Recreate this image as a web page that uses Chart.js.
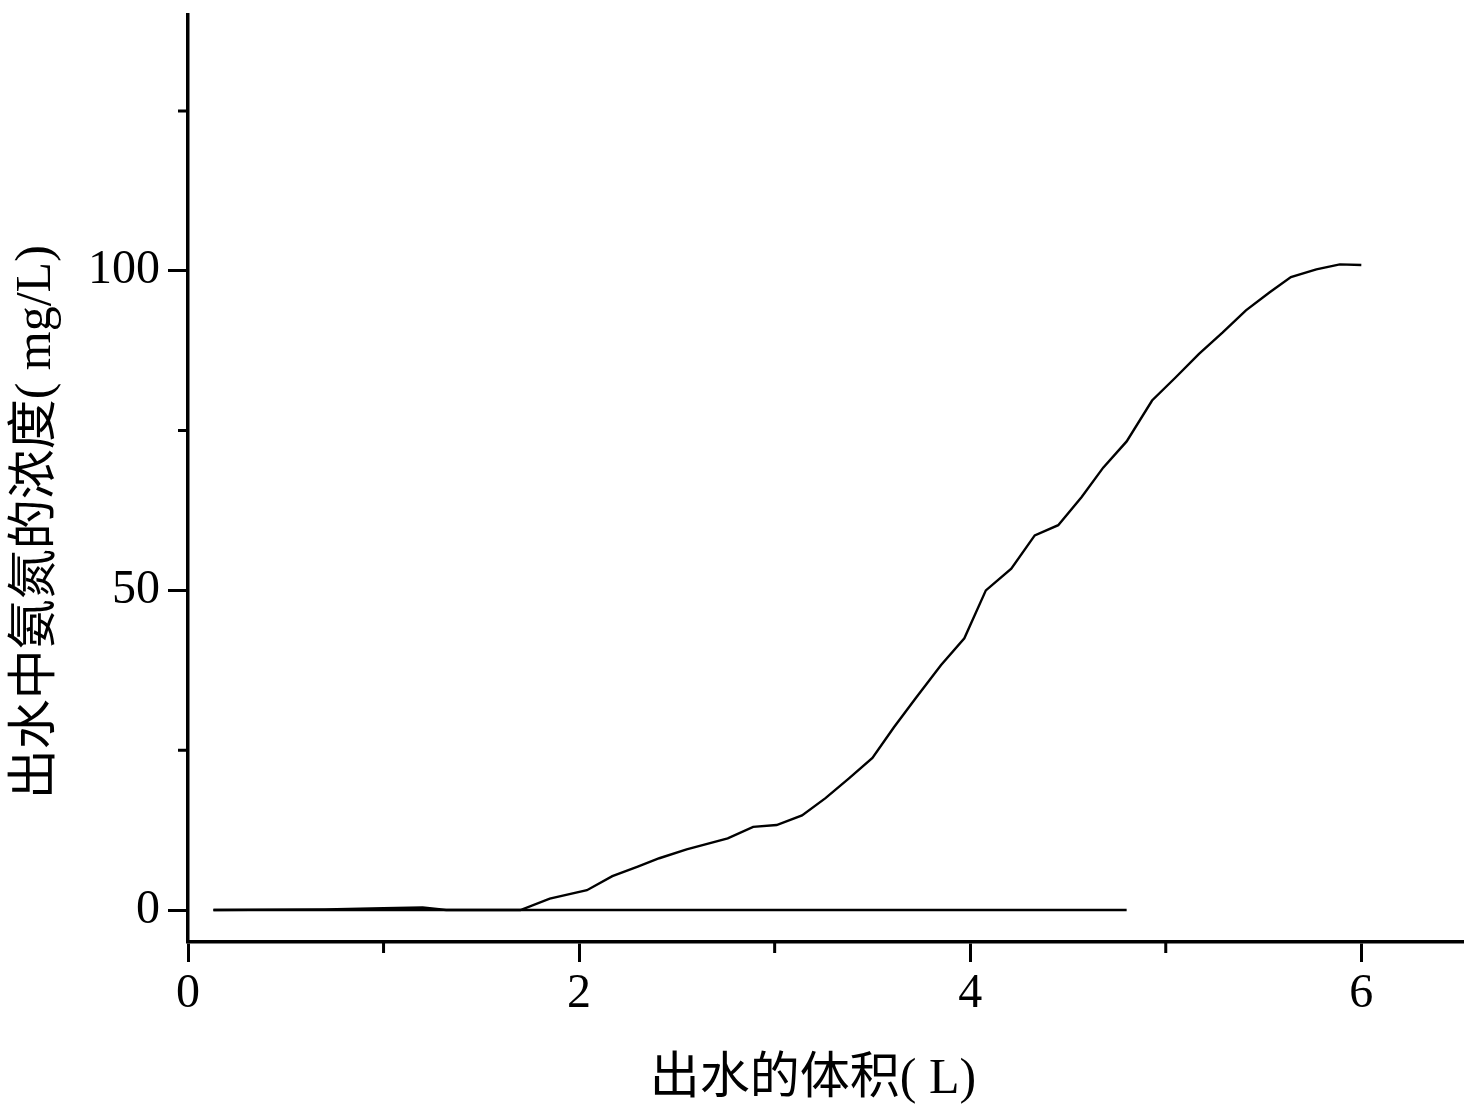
<!DOCTYPE html>
<html>
<head>
<meta charset="utf-8">
<script src="https://cdn.jsdelivr.net/npm/chart.js@4/dist/chart.umd.min.js"></script>
<style>
html,body{margin:0;padding:0;background:#fff;}
canvas{display:block;}
</style>
</head>
<body>
<canvas id="c" width="1464" height="1112"></canvas>
<script>
// Data
const curveX = [0.13,0.7,1.0,1.2,1.32,1.5,1.7,1.85,2.04,2.17,2.3,2.41,2.55,2.76,2.89,3.01,3.14,3.26,3.38,3.5,3.61,3.72,3.85,3.97,4.08,4.21,4.33,4.45,4.57,4.68,4.80,4.93,5.05,5.17,5.29,5.41,5.53,5.64,5.77,5.89,6.0];
const curveY = [0,0.1,0.3,0.4,0,0,0,1.8,3.1,5.3,6.8,8.1,9.5,11.2,13.0,13.3,14.8,17.5,20.6,23.8,28.6,33.1,38.3,42.5,50.0,53.4,58.6,60.2,64.6,69.2,73.3,79.7,83.3,87.0,90.3,93.8,96.6,99.0,100.2,101.0,100.9];
const baseX = [0.13,4.80];
const baseY = [0,0];
const xTicks = [0,2,4,6];
const xMinorTicks = [1,3,5];
const yTicks = [0,50,100];
const yMinorTicks = [25,75,125];
const xTitle = '出水的体积( L)';
const yTitle = '出水中氨氮的浓度( mg/L)';

const toPts = (xs, ys) => xs.map((x, i) => ({x: x, y: ys[i]}));

const minorTickPlugin = {
  id: 'minorTicks',
  afterDraw(chart) {
    const ctx = chart.ctx;
    const xs = chart.scales.x, ys = chart.scales.y;
    const area = chart.chartArea;
    ctx.save();
    ctx.strokeStyle = '#000';
    ctx.lineWidth = 3;
    ctx.beginPath();
    xMinorTicks.forEach(v => {
      const px = xs.getPixelForValue(v);
      ctx.moveTo(px, area.bottom);
      ctx.lineTo(px, area.bottom + 11);
    });
    yMinorTicks.forEach(v => {
      const py = ys.getPixelForValue(v);
      ctx.moveTo(area.left, py);
      ctx.lineTo(area.left - 10, py);
    });
    ctx.stroke();
    ctx.restore();
  }
};

const serif = '"Liberation Serif", "Times New Roman", "Noto Sans CJK SC", serif';

new Chart(document.getElementById('c'), {
  type: 'line',
  data: {
    datasets: [
      {data: toPts(curveX, curveY), borderColor: '#000', borderWidth: 2.4, pointRadius: 0, tension: 0, fill: false},
      {data: toPts(baseX, baseY), borderColor: '#000', borderWidth: 2.4, pointRadius: 0, tension: 0, fill: false}
    ]
  },
  options: {
    responsive: false,
    animation: false,
    devicePixelRatio: 1,
    layout: {padding: {left: 0, top: 15, right: 1, bottom: 0}},
    plugins: {legend: {display: false}, tooltip: {enabled: false}},
    scales: {
      x: {
        type: 'linear',
        min: 0, max: 6.52,
        afterBuildTicks: s => { s.ticks = xTicks.map(v => ({value: v})); },
        afterFit: s => { s.height = 170; s.paddingLeft = 0; s.paddingRight = 0; },
        grid: {drawOnChartArea: false, drawTicks: true, tickLength: 20, tickWidth: 3, tickColor: '#000'},
        border: {display: true, color: '#000', width: 3.5},
        ticks: {color: '#000', font: {family: serif, size: 48}, padding: 4, maxRotation: 0},
        title: {display: true, text: xTitle + '  ', color: '#000', font: {family: serif, size: 50}, padding: {top: 0, bottom: 2}}
      },
      y: {
        type: 'linear',
        min: -5, max: 140,
        afterBuildTicks: s => { s.ticks = yTicks.map(v => ({value: v})); },
        afterFit: s => { s.width = 188; s.paddingTop = 0; s.paddingBottom = 0; },
        grid: {drawOnChartArea: false, drawTicks: true, tickLength: 20, tickWidth: 3, tickColor: '#000'},
        border: {display: true, color: '#000', width: 3.5},
        ticks: {color: '#000', font: {family: serif, size: 48}, padding: 8},
        title: {display: true, text: yTitle + '       ', color: '#000', font: {family: serif, size: 50}, padding: {top: 7, bottom: 0}}
      }
    }
  },
  plugins: [minorTickPlugin]
});
</script>
</body>
</html>
